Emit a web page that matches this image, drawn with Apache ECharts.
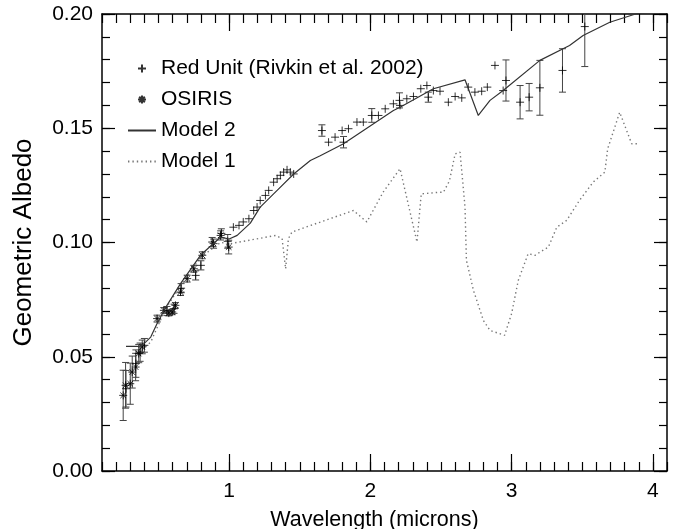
<!DOCTYPE html>
<html>
<head>
<meta charset="utf-8">
<script src="https://cdn.jsdelivr.net/npm/echarts@6/dist/echarts.min.js"></script>
<style>
  html, body { margin: 0; padding: 0; background: #fff; }
  #chart { width: 678px; height: 529px; }
</style>
</head>
<body>
<div id="chart"></div>
<script>
// [wavelength, albedo, error]
const redUnit = [
  [0.27, 0.036, 0.008], [0.34, 0.047, 0.006], [0.37, 0.052, 0.004], [0.40, 0.055, 0.003],
  [0.56, 0.070, 0.002], [0.61, 0.071, 0.002], [0.66, 0.080, 0.002], [0.763, 0.0856, 0.002],
  [0.80, 0.090, 0.002], [0.88, 0.1002, 0.002], [0.945, 0.104, 0.002], [0.99, 0.1005, 0.003],
  [1.03, 0.1067, 0], [1.07, 0.1075, 0], [1.10, 0.109, 0], [1.14, 0.1104, 0],
  [1.174, 0.114, 0], [1.198, 0.1155, 0], [1.22, 0.1184, 0], [1.257, 0.1206, 0],
  [1.28, 0.1228, 0], [1.315, 0.1264, 0], [1.34, 0.1279, 0], [1.363, 0.1294, 0],
  [1.386, 0.1308, 0], [1.41, 0.1318, 0], [1.433, 0.1308, 0], [1.457, 0.130, 0],
  [1.657, 0.149, 0.0025], [1.704, 0.1439, 0], [1.75, 0.1461, 0], [1.80, 0.149, 0],
  [1.81, 0.1439, 0.0025], [1.845, 0.1498, 0], [1.905, 0.1527, 0], [1.95, 0.1527, 0],
  [2.01, 0.1556, 0.003], [2.057, 0.1556, 0], [2.105, 0.1585, 0], [2.163, 0.1607, 0],
  [2.206, 0.1622, 0.0033], [2.21, 0.160, 0], [2.258, 0.1629, 0], [2.305, 0.1639, 0],
  [2.357, 0.1673, 0], [2.40, 0.1687, 0], [2.41, 0.1636, 0.0022], [2.446, 0.1665, 0],
  [2.493, 0.1662, 0], [2.552, 0.1614, 0], [2.60, 0.1639, 0], [2.647, 0.1633, 0],
  [2.693, 0.168, 0], [2.74, 0.1658, 0], [2.788, 0.1662, 0], [2.828, 0.168, 0],
  [2.882, 0.1775, 0], [2.94, 0.1665, 0], [2.96, 0.1709, 0.009], [3.06, 0.1614, 0.0073],
  [3.124, 0.1636, 0.006], [3.2, 0.1677, 0.012], [3.36, 0.1753, 0.0095], [3.518, 0.1945, 0.0175]
];

const osiris = [
  [0.25, 0.0331, 0.011], [0.267, 0.0375, 0.010], [0.30, 0.0382, 0.009], [0.314, 0.0433, 0.007],
  [0.338, 0.0455, 0.006], [0.36, 0.0514, 0.004], [0.385, 0.0543, 0.003], [0.49, 0.0667, 0.0015],
  [0.538, 0.0703, 0.0012], [0.573, 0.0691, 0.0012], [0.597, 0.0696, 0.0012], [0.62, 0.0725, 0.0012],
  [0.656, 0.0783, 0.0015], [0.703, 0.0842, 0.0015], [0.75, 0.0885, 0.0015], [0.81, 0.0944, 0.0015],
  [0.89, 0.0995, 0.002], [0.94, 0.1031, 0.002], [0.997, 0.098, 0.003]
];

const model2 = [
  [0.27, 0.0545], [0.35, 0.0545], [0.385, 0.055], [0.445, 0.0586], [0.49, 0.0645],
  [0.55, 0.0715], [0.656, 0.082], [0.797, 0.0944], [0.94, 0.1024], [1.0, 0.1015],
  [1.057, 0.1031], [1.15, 0.1085], [1.22, 0.1155], [1.34, 0.1228], [1.457, 0.130],
  [1.575, 0.1359], [1.645, 0.138], [1.81, 0.1432], [2.163, 0.1578], [2.21, 0.1592],
  [2.446, 0.1673], [2.67, 0.1712], [2.764, 0.1556], [2.847, 0.1622], [2.94, 0.1665],
  [3.2, 0.1797], [3.41, 0.1862], [3.506, 0.1906], [3.695, 0.1964], [3.883, 0.2001], [4.0, 0.201]
];

const model1 = [
  [0.36, 0.052], [0.445, 0.0564], [0.55, 0.071], [0.656, 0.081], [0.797, 0.0935],
  [0.94, 0.100], [1.01, 0.0995], [1.33, 0.1031], [1.375, 0.1017], [1.40, 0.0885],
  [1.42, 0.1017], [1.445, 0.1046], [1.88, 0.114], [1.975, 0.109], [2.09, 0.122],
  [2.21, 0.1323], [2.33, 0.1002], [2.36, 0.1213], [2.49, 0.122], [2.517, 0.122],
  [2.56, 0.127], [2.60, 0.1388], [2.635, 0.1395], [2.67, 0.1155], [2.68, 0.0922],
  [2.73, 0.079], [2.80, 0.0659], [2.847, 0.0615], [2.95, 0.0594], [3.0, 0.0689],
  [3.047, 0.0834], [3.117, 0.0951], [3.165, 0.0944], [3.26, 0.098], [3.32, 0.1067],
  [3.39, 0.1097], [3.48, 0.1184], [3.577, 0.1264], [3.66, 0.1308], [3.68, 0.141],
  [3.765, 0.157], [3.85, 0.1432], [3.907, 0.1432]
];

const xMajor = [1, 2, 3, 4];

const FONT = "'Liberation Sans', Arial, Helvetica, sans-serif";
const plusPath = 'path://M0,5L10,5M5,0L5,10';
const starPath = 'path://M0,5L10,5M5,0L5,10M1.5,1.5L8.5,8.5M8.5,1.5L1.5,8.5';

function errData(rows) {
  return rows.filter(r => r[2] > 0).map(r => [r[0], r[1] - r[2], r[1] + r[2]]);
}

function renderErr(params, api) {
  const x = api.value(0);
  const lo = api.coord([x, api.value(1)]);
  const hi = api.coord([x, api.value(2)]);
  const w = 3.5;
  const st = { stroke: '#444', lineWidth: 1 };
  return {
    type: 'group',
    children: [
      { type: 'line', shape: { x1: lo[0], y1: lo[1], x2: hi[0], y2: hi[1] }, style: st },
      { type: 'line', shape: { x1: lo[0] - w, y1: lo[1], x2: lo[0] + w, y2: lo[1] }, style: st },
      { type: 'line', shape: { x1: hi[0] - w, y1: hi[1], x2: hi[0] + w, y2: hi[1] }, style: st }
    ]
  };
}

const noLabel = { show: false };

function axLine(major) {
  return { show: major, onZero: false, lineStyle: { color: '#000', width: 1.5 } };
}

function xAx(pos, major) {
  const ax = {
    type: 'value', position: pos, min: 0.1, max: 4.1,
    splitLine: { show: false },
    axisLine: axLine(major),
    axisLabel: noLabel,
    axisTick: { inside: true, length: major ? 17 : 9, lineStyle: { color: '#000', width: 1.2 } }
  };
  if (major) {
    ax.axisTick.customValues = xMajor;
  } else {
    ax.interval = 0.1;
  }
  return ax;
}

function yAx(pos, major) {
  return {
    type: 'value', position: pos, min: 0, max: 0.2,
    interval: major ? 0.05 : 0.01,
    splitLine: { show: false },
    axisLine: axLine(major),
    axisLabel: noLabel,
    axisTick: { inside: true, length: major ? 13 : 8, lineStyle: { color: '#000', width: 1.2 } }
  };
}

const xAxes = [xAx('bottom', true), xAx('bottom', false), xAx('top', true), xAx('top', false)];
xAxes[0].axisLabel = {
  show: true, customValues: xMajor, fontSize: 21, color: '#000', fontFamily: FONT, margin: 10
};
xAxes[0].name = 'Wavelength (microns)';
xAxes[0].nameLocation = 'middle';
xAxes[0].nameGap = 38;
xAxes[0].nameTextStyle = { fontSize: 21.5, color: '#000', fontFamily: FONT, padding: [0, 20, 0, 0] };

const yAxes = [yAx('left', true), yAx('left', false), yAx('right', true), yAx('right', false)];
yAxes[0].axisLabel = {
  show: true, fontSize: 21, color: '#000', fontFamily: FONT, margin: 9,
  formatter: v => v.toFixed(2)
};
yAxes[0].name = 'Geometric Albedo';
yAxes[0].nameLocation = 'middle';
yAxes[0].nameRotate = 90;
yAxes[0].nameGap = 65;
yAxes[0].nameTextStyle = { fontSize: 26, color: '#000', fontFamily: FONT };

const hideDot = { color: 'rgba(0,0,0,0)', borderWidth: 0, opacity: 0 };

const chart = echarts.init(document.getElementById('chart'), null, { renderer: 'canvas' });
chart.setOption({
  animation: false,
  backgroundColor: '#fff',
  grid: { left: 102, right: 11, top: 14, bottom: 58, containLabel: false, outerBoundsMode: 'none' },
  legend: {
    orient: 'vertical', left: 127, top: 58, padding: 0,
    itemWidth: 28, itemHeight: 8, itemGap: 10,
    data: [
      'Red Unit (Rivkin et al. 2002)',
      'OSIRIS',
      { name: 'Model 2', itemStyle: hideDot },
      { name: 'Model 1', itemStyle: hideDot }
    ],
    textStyle: { fontSize: 21, lineHeight: 21, color: '#000', fontFamily: FONT },
    selectedMode: false
  },
  xAxis: xAxes,
  yAxis: yAxes,
  series: [
    {
      name: 'redErr', type: 'custom', renderItem: renderErr, clip: true,
      encode: { x: 0, y: [1, 2] }, data: errData(redUnit), z: 2
    },
    {
      name: 'osirisErr', type: 'custom', renderItem: renderErr, clip: true,
      encode: { x: 0, y: [1, 2] }, data: errData(osiris), z: 2
    },
    {
      name: 'Red Unit (Rivkin et al. 2002)', type: 'scatter',
      symbol: plusPath, symbolSize: 8, symbolKeepAspect: true,
      itemStyle: { color: 'none', borderColor: '#000', borderWidth: 1 },
      data: redUnit.map(r => [r[0], r[1]]), z: 3
    },
    {
      name: 'OSIRIS', type: 'scatter',
      symbol: starPath, symbolSize: 8, symbolKeepAspect: true,
      itemStyle: { color: 'none', borderColor: '#000', borderWidth: 1 },
      data: osiris.map(r => [r[0], r[1]]), z: 3
    },
    {
      name: 'Model 2', type: 'line', symbol: 'none', showSymbol: false,
      lineStyle: { color: '#333', width: 1.2 },
      itemStyle: { color: '#333' },
      data: model2, z: 4
    },
    {
      name: 'Model 1', type: 'line', symbol: 'none', showSymbol: false,
      lineStyle: { color: '#777', width: 1.4, type: [1.4, 3] },
      itemStyle: { color: '#777' },
      data: model1, z: 1
    }
  ]
});
</script>
</body>
</html>
